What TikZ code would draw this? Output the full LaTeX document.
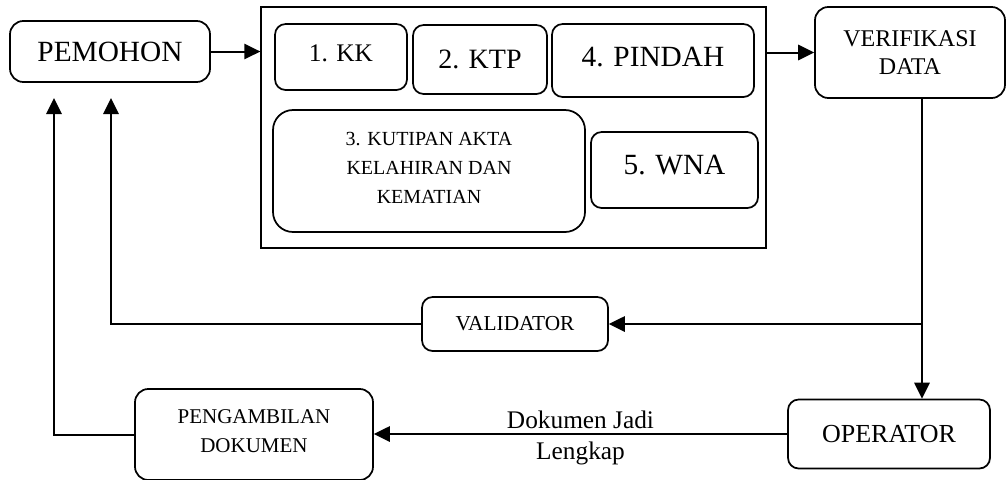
\documentclass[tikz,border=0pt]{standalone}
\usepackage{fontspec}
\setmainfont{Liberation Serif}
\usetikzlibrary{arrows.meta,calc}
\newcommand{\fs}[2]{\fontsize{#1}{#2}\selectfont}
\begin{document}
\begin{tikzpicture}[x=0.75pt,y=-0.75pt,
  rbox/.style={draw, line width=1.3pt, rounded corners=8pt, inner sep=0pt, align=center},
  conn/.style={line width=1.5pt, -{Triangle[length=12pt,width=11.5pt]}},
  plain/.style={line width=1.5pt}]
\useasboundingbox (0,0) rectangle (1007,479);
% nodes
\node[rbox, rounded corners=10pt, minimum width=150pt, minimum height=45.75pt, font=\fs{22pt}{26pt}] (pemohon) at (110,51.5) {PEMOHON};
\node[draw, line width=1pt, inner sep=0pt, minimum width=378.75pt, minimum height=180.75pt] (big) at (513.5,127.5) {};
\node[rbox, minimum width=99pt, minimum height=49.5pt, font=\fs{19pt}{22pt}] (kk) at (341,57) {1. KK\rule[-6pt]{0pt}{1pt}};
\node[rbox, minimum width=100.5pt, minimum height=51.75pt, font=\fs{21pt}{24pt}] (ktp) at (480,59.5) {2. KTP};
\node[rbox, minimum width=151.5pt, minimum height=54.75pt, font=\fs{22pt}{26pt}] (pindah) at (653,60.5) {4. PINDAH\rule[-5pt]{0pt}{1pt}};
\node[rbox, rounded corners=15pt, minimum width=234pt, minimum height=91.5pt, font=\fs{15pt}{21.75pt}] (akta) at (429,171) {3. KUTIPAN AKTA\\KELAHIRAN DAN\\KEMATIAN\rule[-5pt]{0pt}{1pt}};
\node[rbox, minimum width=125.25pt, minimum height=57pt, font=\fs{22pt}{26pt}] (wna) at (674.5,170) {5. WNA\rule[-8pt]{0pt}{1pt}};
\node[rbox, rounded corners=10pt, minimum width=142.5pt, minimum height=68.25pt, font=\fs{18pt}{21pt}] (verif) at (910,52.5) {VERIFIKASI\\DATA};
\node[rbox, minimum width=139.5pt, minimum height=40.5pt, font=\fs{16pt}{19pt}] (validator) at (515,324) {VALIDATOR};
\node[rbox, minimum width=151.5pt, minimum height=51.75pt, font=\fs{19.5pt}{23pt}] (operator) at (889,434) {OPERATOR};
\node[rbox, rounded corners=10pt, minimum width=178.5pt, minimum height=68.25pt, font=\fs{15.75pt}{21.75pt}] (ambil) at (254,434.5) {PENGAMBILAN\\DOKUMEN\rule[-5pt]{0pt}{1pt}};
% free ends
\coordinate (tipA) at (54,98);
\coordinate (tipB) at (111,98);
\coordinate (vtop) at ([xshift=9pt]verif.south);
\coordinate (branch) at (vtop |- validator.east);
% connectors
\draw[conn] (pemohon.east) -- (pemohon.east -| big.west);
\draw[conn] (big.east |- verif.west) -- (verif.west);
\draw[conn] (vtop) -- (vtop |- operator.north);
\draw[conn] (branch) -- (validator.east);
\draw[conn] (validator.west) -| (tipB);
\draw[conn] (operator.west) -- node[midway, yshift=-3pt, align=center, font=\fs{19pt}{23.5pt}] (lbl) {Dokumen Jadi\\Lengkap} (operator.west -| ambil.east);
\draw[conn] (ambil.west) -| (tipA);
\end{tikzpicture}
\end{document}
